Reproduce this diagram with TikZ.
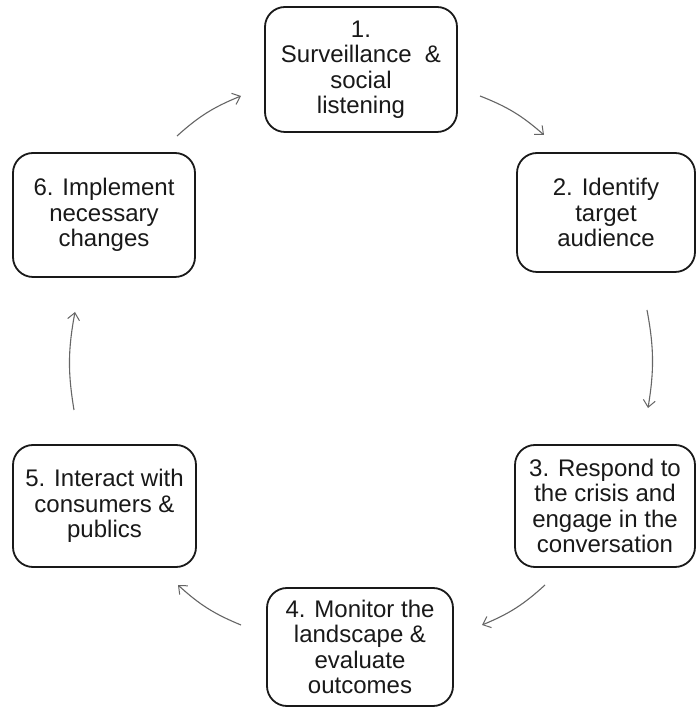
\documentclass[tikz,border=0pt]{standalone}
\usepackage{fontspec}
\setmainfont{Liberation Sans}
\usetikzlibrary{arrows.meta}
\tikzset{
  stepbox/.style={draw=black!90, line width=1.8pt, rounded corners=20pt, align=center,
    inner sep=0pt, font=\fontsize{24}{25.5}\selectfont, text=black!90},
  flow/.style={draw=black!60, line width=1.1pt, bend left=10,
    -{Straight Barb[length=7pt,width=12pt,line width=1pt]}}
}
\begin{document}
\begin{tikzpicture}[x=1pt,y=1pt]
\useasboundingbox[fill=white] (0,0) rectangle (697,710);
\node[stepbox, minimum width=192pt, minimum height=125pt] (b1) at (361,640.5)
  {1.\\Surveillance\ \ \&\\social\\listening};
\node[stepbox, minimum width=178pt, minimum height=119pt] (b2) at (606,497.5)
  {2. Identify\\target\\audience};
\node[stepbox, minimum width=180pt, minimum height=122pt] (b3) at (605,204)
  {3. Respond to\\the crisis and\\engage in the\\conversation};
\node[stepbox, minimum width=186pt, minimum height=118pt] (b4) at (360,63)
  {4. Monitor the\\landscape \&\\evaluate\\outcomes};
\node[stepbox, minimum width=183pt, minimum height=122pt] (b5) at (104.5,204)
  {5. Interact with\\consumers \&\\publics};
\node[stepbox, minimum width=182pt, minimum height=124pt] (b6) at (104,495)
  {6. Implement\\necessary\\changes};
\coordinate (s61) at (177,574); \coordinate (e61) at (241,614);
\coordinate (s12) at (480,614); \coordinate (e12) at (544,575);
\coordinate (s23) at (647,400); \coordinate (e23) at (648,302);
\coordinate (s34) at (545,125); \coordinate (e34) at (482,85);
\coordinate (s45) at (241,85);  \coordinate (e45) at (178,125);
\coordinate (s56) at (74,300);  \coordinate (e56) at (75,398);
\draw[flow] (s61) to (e61);
\draw[flow] (s12) to (e12);
\draw[flow] (s23) to (e23);
\draw[flow] (s34) to (e34);
\draw[flow] (s45) to (e45);
\draw[flow] (s56) to (e56);
\end{tikzpicture}
\end{document}
